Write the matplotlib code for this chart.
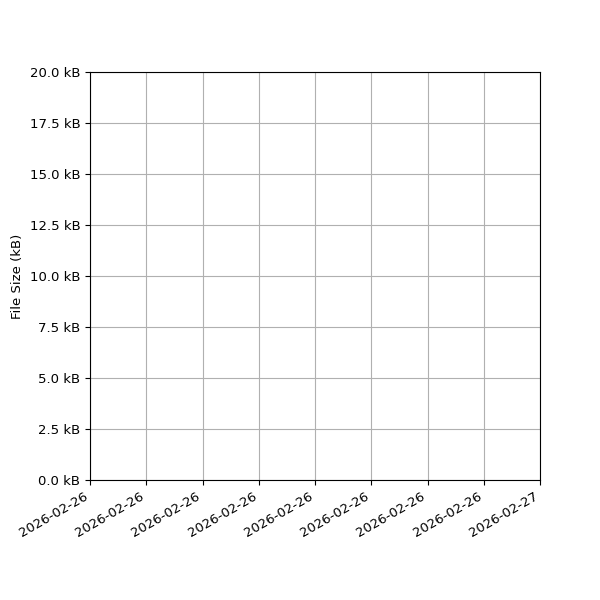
import datetime as dt
import matplotlib
matplotlib.use("Agg")
import matplotlib.pyplot as plt
import matplotlib.dates as mdates
from matplotlib.ticker import FuncFormatter, MultipleLocator

plt.rcParams["font.size"] = 9.5

# no recorded samples in the reference, only the time window
timestamps = []
sizes_kb = []
start = dt.datetime(2026, 2, 26)
end = dt.datetime(2026, 2, 27)

fig, ax = plt.subplots(figsize=(6, 6), dpi=100)
ax.plot(timestamps, sizes_kb, marker="o")

ax.set_xlim(start, end)
ax.set_ylim(0, 20)
ax.xaxis.set_major_locator(mdates.HourLocator(byhour=range(0, 24, 3)))
ax.xaxis.set_major_formatter(mdates.DateFormatter("%Y-%m-%d"))
ax.yaxis.set_major_locator(MultipleLocator(2.5))
ax.yaxis.set_major_formatter(FuncFormatter(lambda v, _: f"{v:.1f} kB"))

ax.set_ylabel("File Size (kB)")
ax.grid(True)
fig.autofmt_xdate()
fig.subplots_adjust(left=0.15, right=0.9, top=0.88, bottom=0.2)

fig.savefig("out.png")
